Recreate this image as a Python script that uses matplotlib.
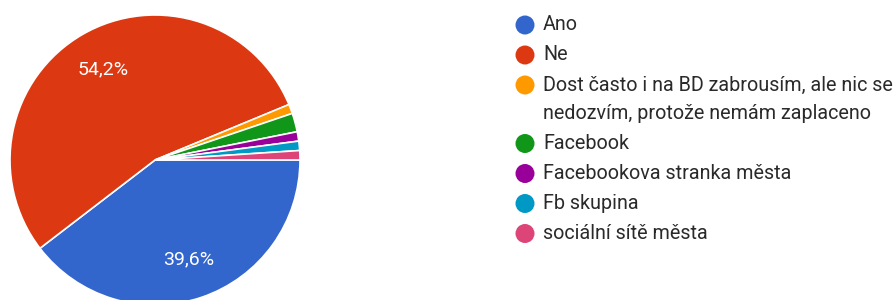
import matplotlib.pyplot as plt
from matplotlib.patches import Circle

plt.rcParams["font.family"] = ["Roboto", "DejaVu Sans"]

# data
labels = [
    "Ano",
    "Ne",
    "Dost často i na BD zabrousím, ale nic se\nnedozvím, protože nemám zaplaceno",
    "Facebook",
    "Facebookova stranka města",
    "Fb skupina",
    "sociální sítě města",
]
counts = [38, 52, 1, 2, 1, 1, 1]
colors = ["#3366cc", "#dc3912", "#ff9900", "#109618", "#990099", "#0099c6", "#dd4477"]

W, H = 896, 300
fig = plt.figure(figsize=(W / 100, H / 100), dpi=100)
ax = fig.add_axes([0, 0, 1, 1])


def pct_label(p):
    # jen velké výseče, desetinná čárka
    return f"{p:.1f}%".replace(".", ",") if p > 5 else ""


wedges, texts, autotexts = ax.pie(
    counts,
    colors=colors,
    startangle=0,
    counterclock=False,
    center=(155, H - 160),
    radius=145,
    autopct=pct_label,
    pctdistance=0.72,
    wedgeprops={"edgecolor": "white", "linewidth": 1.2},
    textprops={"color": "white", "fontsize": 14},
    frame=True,
)
ax.set_xlim(0, W)
ax.set_ylim(0, H)
ax.set_aspect("equal")
ax.axis("off")

# legenda
lx, ly = 525, 25
step, wrap_step = 30, 28.5
for lab, col in zip(labels, colors):
    ax.add_patch(Circle((lx, H - ly), 9.5, color=col, lw=0))
    for k, line in enumerate(lab.split("\n")):
        ax.text(lx + 18, H - ly - k * wrap_step, line, fontsize=14.2,
                color="#2a2a2a", va="center", ha="left")
    ly += step + wrap_step * lab.count("\n")

fig.savefig("out.png", dpi=100, facecolor="white")
